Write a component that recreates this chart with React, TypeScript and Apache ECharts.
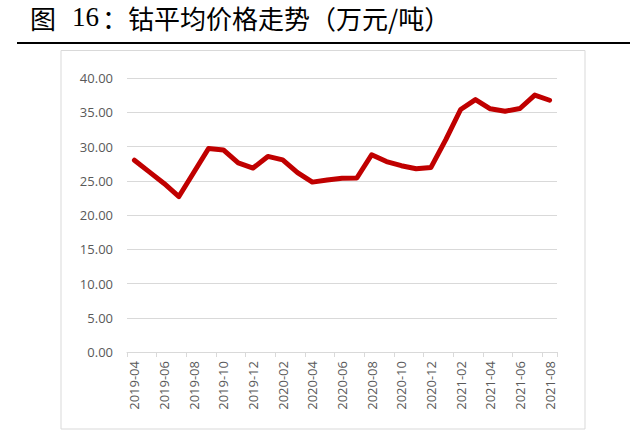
import React, { useEffect, useRef } from "react";
import * as echarts from "echarts";

const titleHead = "图";
const titleNum = "16";
const titleTail = "：钴平均价格走势（万元/吨）";

const months = [
  "2019-04", "2019-05", "2019-06", "2019-07", "2019-08", "2019-09", "2019-10", "2019-11", "2019-12",
  "2020-01", "2020-02", "2020-03", "2020-04", "2020-05", "2020-06", "2020-07", "2020-08", "2020-09",
  "2020-10", "2020-11", "2020-12", "2021-01", "2021-02", "2021-03", "2021-04", "2021-05", "2021-06",
  "2021-07", "2021-08",
];

const cobaltPrice = [
  28.0, 26.3, 24.6, 22.7, 26.2, 29.7, 29.5, 27.6, 26.85,
  28.55, 28.05, 26.2, 24.8, 25.1, 25.35, 25.4, 28.8, 27.8,
  27.2, 26.75, 26.95, 31.0, 35.4, 36.85, 35.5, 35.15, 35.55,
  37.5, 36.75,
];

const yTicks = { min: 0, max: 40, interval: 5 };

export default function App() {
  const ref = useRef<HTMLDivElement>(null);

  useEffect(() => {
    if (!ref.current) return;
    const chart = echarts.init(ref.current, undefined, { renderer: "svg" });
    const cjk = "'Noto Sans CJK SC', sans-serif";
    chart.setOption({
      animation: false,
      backgroundColor: "#ffffff",
      graphic: [
        {
          type: "text",
          x: 30,
          y: 17,
          style: {
            text: titleHead,
            fontSize: 26,
            lineHeight: 26,
            fontFamily: cjk,
            fill: "#000000",
            textVerticalAlign: "middle",
          },
        },
        {
          type: "text",
          x: 72,
          y: 17,
          style: {
            text: titleNum,
            fontSize: 27,
            lineHeight: 27,
            fontFamily: "'Liberation Serif', serif",
            fill: "#000000",
            textVerticalAlign: "middle",
          },
        },
        {
          type: "text",
          x: 102,
          y: 17,
          style: {
            text: titleTail,
            fontSize: 26,
            lineHeight: 26,
            fontFamily: cjk,
            fill: "#000000",
            textVerticalAlign: "middle",
          },
        },
        {
          type: "line",
          shape: { x1: 17, y1: 43, x2: 630, y2: 43 },
          style: { stroke: "#000000", lineWidth: 2 },
        },
        {
          type: "rect",
          shape: { x: 61, y: 50.5, width: 524, height: 378.5 },
          style: { fill: "none", stroke: "#d9d9d9", lineWidth: 1 },
          z: -1,
        },
      ],
      grid: {
        left: 127,
        top: 78,
        width: 430,
        height: 274,
        outerBoundsMode: "none",
      },
      xAxis: {
        type: "category",
        data: months,
        boundaryGap: true,
        axisLine: { show: true, lineStyle: { color: "#d9d9d9", width: 1 } },
        axisTick: { show: true, interval: 1, length: 5, lineStyle: { color: "#d9d9d9" } },
        axisLabel: {
          interval: 1,
          rotate: 90,
          margin: 9,
          fontSize: 13,
          color: "#595959",
          fontFamily: "'Open Sans', 'DejaVu Sans', sans-serif",
        },
      },
      yAxis: {
        type: "value",
        min: yTicks.min,
        max: yTicks.max,
        interval: yTicks.interval,
        axisLine: { show: false },
        axisTick: { show: false },
        splitLine: { show: true, lineStyle: { color: "#d9d9d9", width: 1 } },
        axisLabel: {
          formatter: (v: number) => v.toFixed(2),
          margin: 14,
          fontSize: 13,
          color: "#595959",
          fontFamily: "'Open Sans', 'DejaVu Sans', sans-serif",
        },
      },
      series: [
        {
          type: "line",
          data: cobaltPrice,
          symbol: "none",
          smooth: false,
          lineStyle: { color: "#c00000", width: 5, join: "round", cap: "round" },
          itemStyle: { color: "#c00000" },
        },
      ],
    });
    return () => chart.dispose();
  }, []);

  return (
    <div
      ref={ref}
      style={{ position: "absolute", left: 0, top: 0, width: 640, height: 439 }}
    />
  );
}
